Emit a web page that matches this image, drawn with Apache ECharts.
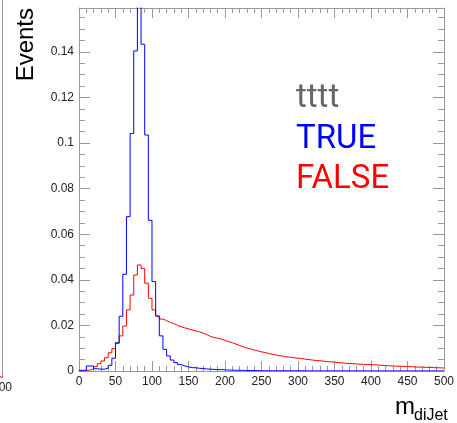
<!DOCTYPE html>
<html>
<head>
<meta charset="utf-8">
<script src="https://cdn.jsdelivr.net/npm/echarts@6/dist/echarts.min.js"></script>
<style>
html,body{margin:0;padding:0;background:#fff;}
#chart{width:457px;height:423px;}
</style>
</head>
<body>
<div id="chart"></div>
<script>
// histogram binning: 100 bins of width 5 from 0 to 500
const binWidth = 5;
const xMin = 0;
const xMax = 500;
const yMax = 0.1592;

const xTickLabels = ['0','50','100','150','200','250','300','350','400','450','500'];
const yTickLabels = ['0','0.02','0.04','0.06','0.08','0.1','0.12','0.14'];

const legendLabels = ['tttt', 'TRUE', 'FALSE'];

// TRUE (blue) bin contents
const trueValues = [
  0.0003,0.0003,0.0022,0.0022,0.0010,0.0008,0.0008,0.0012,0.0025,0.0056,
  0.0124,0.0240,0.0424,0.0677,0.1042,0.1404,0.1600,0.1433,0.1035,0.0661,
  0.0392,0.0241,0.0154,0.0095,0.0066,0.0048,0.0037,0.0028,0.0022,0.0018,
  0.0015,0.0014,0.0012,0.0011,0.0009,0.0008,0.0007,0.0006,0.0006,0.0005,
  0.0004,0.0004,0.0003,0.0003,0.0003,0.0002,0.0002,0.0002,0.0002,0.0001,
  0.0001,0.0001,0.0001,0.0001,0.0001,0.0001,0.0001,0.0001,0.0001,0.0001,
  0.0001,0.0001,0.00005,0.00005,0.00005,0.00005,0.00005,0.00005,0.00005,0.00005,
  0.00005,0.00005,0.00005,0.00005,0.00005,0.00005,0.00005,0.00005,0.00005,0.00005,
  0.00003,0.00003,0.00003,0.00003,0.00003,0.00003,0.00003,0.00003,0.00003,0.00003,
  0.00003,0.00003,0.00003,0.00003,0.00003,0.00003,0.00003,0.00003,0.00003,0.00003
];

// FALSE (red) bin contents
const falseValues = [
  0.0000,0.0002,0.0004,0.0009,0.0019,0.0032,0.0044,0.0058,0.0080,0.0098,
  0.0121,0.0154,0.0197,0.0268,0.0333,0.0421,0.0465,0.0450,0.0385,0.0319,
  0.0268,0.0241,0.0228,0.0221,0.0213,0.0208,0.0200,0.0194,0.0189,0.0185,
  0.0180,0.0176,0.0172,0.0166,0.0160,0.0152,0.0147,0.0144,0.0140,0.0134,
  0.0129,0.0124,0.0118,0.0112,0.0106,0.0101,0.0097,0.0092,0.0088,0.0084,
  0.0081,0.0077,0.0073,0.0070,0.0067,0.0065,0.0062,0.0060,0.0058,0.0056,
  0.0055,0.0052,0.0050,0.0048,0.0046,0.0045,0.0043,0.0041,0.0040,0.0039,
  0.0037,0.0036,0.0034,0.0033,0.0032,0.0031,0.0030,0.0029,0.0028,0.0028,
  0.0027,0.0026,0.0025,0.0024,0.0023,0.0022,0.0021,0.0021,0.0020,0.0019,
  0.0019,0.0018,0.0017,0.0017,0.0016,0.0016,0.0015,0.0014,0.0014,0.0013
];

function histPoints(vals) {
  const pts = vals.map((v, i) => [xMin + i * binWidth, v]);
  pts.push([xMin + vals.length * binWidth, vals[vals.length - 1]]);
  return pts;
}

function labelFrom(list) {
  return function (v) {
    for (const s of list) { if (Math.abs(parseFloat(s) - v) < 1e-9) return s; }
    return '';
  };
}

const frameColor = '#999';
const labelFont = { fontFamily: 'Liberation Sans', fontSize: 12, color: '#222' };

const chart = echarts.init(document.getElementById('chart'), null, { renderer: 'canvas' });

const xCommon = {
  type: 'value', min: xMin, max: xMax, interval: 50,
  axisLine: { show: true, onZero: false, lineStyle: { color: frameColor, width: 1 } },
  splitLine: { show: false }
};
const yCommon = {
  type: 'value', min: 0, max: yMax, interval: 0.02,
  axisLine: { show: true, onZero: false, lineStyle: { color: frameColor, width: 1 } },
  splitLine: { show: false }
};

chart.setOption({
  animation: false,
  backgroundColor: '#fff',
  grid: { left: 79, right: 7, top: 8, bottom: 52, containLabel: false },
  xAxis: [
    Object.assign({}, xCommon, {
      position: 'bottom',
      axisTick: { show: true, inside: true, length: 10, lineStyle: { color: frameColor } },
      minorTick: { show: true, splitNumber: 5, length: 5, lineStyle: { color: frameColor } },
      axisLabel: Object.assign({ show: true, margin: 5, formatter: labelFrom(xTickLabels) }, labelFont)
    }),
    Object.assign({}, xCommon, {
      position: 'top',
      axisTick: { show: true, inside: true, length: 10, lineStyle: { color: frameColor } },
      minorTick: { show: true, splitNumber: 5, length: 5, lineStyle: { color: frameColor } },
      axisLabel: { show: false }
    })
  ],
  yAxis: [
    Object.assign({}, yCommon, {
      position: 'left',
      axisTick: { show: true, inside: true, length: 11, lineStyle: { color: frameColor } },
      minorTick: { show: true, splitNumber: 4, length: 6, lineStyle: { color: frameColor } },
      axisLabel: Object.assign({ show: true, margin: 5, showMaxLabel: false, formatter: labelFrom(yTickLabels) }, labelFont)
    }),
    Object.assign({}, yCommon, {
      position: 'right',
      axisTick: { show: true, inside: true, length: 11, lineStyle: { color: frameColor } },
      minorTick: { show: true, splitNumber: 4, length: 6, lineStyle: { color: frameColor } },
      axisLabel: { show: false }
    })
  ],
  series: [
    {
      name: 'FALSE', type: 'line', step: 'end', symbol: 'none',
      xAxisIndex: 0, yAxisIndex: 0, clip: true,
      lineStyle: { color: '#ff0000', width: 1 },
      data: histPoints(falseValues)
    },
    {
      name: 'TRUE', type: 'line', step: 'end', symbol: 'none',
      xAxisIndex: 0, yAxisIndex: 0, clip: true,
      lineStyle: { color: '#0000ff', width: 1 },
      data: histPoints(trueValues)
    }
  ],
  graphic: [
    // neighbouring (cropped) panel remnants on the left edge
    { type: 'line', shape: { x1: 2.5, y1: 0, x2: 2.5, y2: 377 }, style: { stroke: frameColor, lineWidth: 1 } },
    { type: 'line', shape: { x1: 0, y1: 377, x2: 3, y2: 377 }, style: { stroke: '#ff0000', lineWidth: 1 } },
    { type: 'text', x: 12, y: 388, style: { text: '1000', textAlign: 'right', textVerticalAlign: 'middle', font: '12px "Liberation Sans"', fill: '#222' } },
    // axis titles
    { type: 'text', x: 26, y: 8, rotation: Math.PI / 2,
      style: { text: 'Events', textAlign: 'right', textVerticalAlign: 'middle', font: '24px "Liberation Sans"', fill: '#000' } },
    { type: 'text', x: 395, y: 407,
      style: { text: 'm', textAlign: 'left', textVerticalAlign: 'middle', font: '24px "Liberation Sans"', fill: '#000' } },
    { type: 'text', x: 414, y: 416,
      style: { text: 'diJet', textAlign: 'left', textVerticalAlign: 'middle', font: '16px "Liberation Sans"', fill: '#000' } },
    // legend-like labels
    { type: 'text', x: 296, y: 99,
      style: { text: legendLabels[0], textAlign: 'left', textVerticalAlign: 'middle', font: '33px Roboto', fill: '#666666' } },
    { type: 'text', x: 296, y: 140,
      style: { text: legendLabels[1], textAlign: 'left', textVerticalAlign: 'middle', font: '33px Roboto', fill: '#0000ff' } },
    { type: 'text', x: 296, y: 180,
      style: { text: legendLabels[2], textAlign: 'left', textVerticalAlign: 'middle', font: '33px Roboto', fill: '#ff0000' } }
  ]
});
</script>
</body>
</html>
